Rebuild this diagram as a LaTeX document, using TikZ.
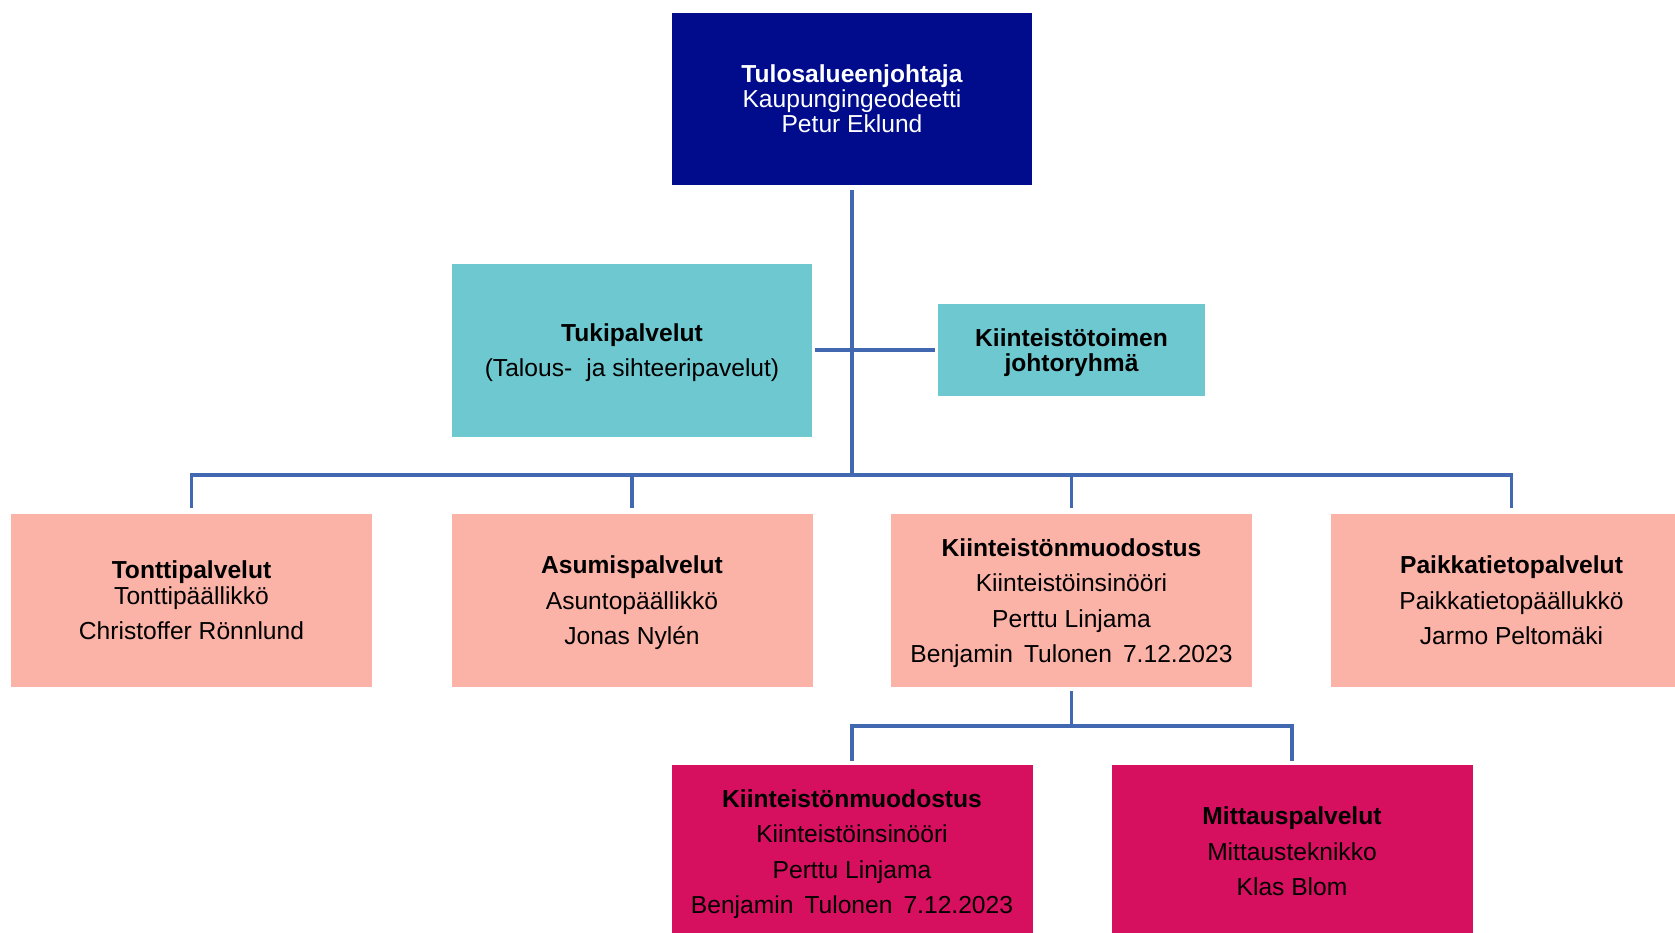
\documentclass[tikz,border=0pt]{standalone}
\usepackage{fontspec}
\setmainfont{Liberation Sans}
\definecolor{navy}{RGB}{0,12,140}
\definecolor{teal}{RGB}{110,200,208}
\definecolor{salmon}{RGB}{251,178,167}
\definecolor{magenta}{RGB}{214,15,95}
\definecolor{lineblue}{RGB}{66,104,178}
\newcommand{\nodepth}[1]{\raisebox{0pt}[\height][0pt]{#1}}
\begin{document}
\begin{tikzpicture}[x=1pt,y=-1pt,
  box/.style={inner sep=0pt, align=center, text=black,
    font=\fontsize{24.6}{35.5}\selectfont},
  tight/.style={font=\fontsize{24.6}{25}\selectfont},
  rowbox/.style={box, minimum width=361pt, minimum height=173pt},
  conn/.style={draw=lineblue, line width=3.3pt}]
\useasboundingbox (0,0) rectangle (1675,932);
\clip (0,0) rectangle (1675,932);

% nodes
\node[box, tight, fill=navy, text=white, minimum width=360pt, minimum height=172pt] (top) at (852,99)
  {\textbf{Tulosalueenjohtaja}\\Kaupungingeodeetti\\Petur Eklund};
\node[box, fill=teal, minimum width=360pt, minimum height=173pt] (tuki) at (632,350)
  {\textbf{Tukipalvelut}\\\nodepth{(Talous-\hspace{0.3em} ja sihteeripavelut)}};
\node[box, tight, fill=teal, minimum width=267pt, minimum height=92pt] (johto) at (1071.5,350)
  {\textbf{Kiinteistötoimen}\\\nodepth{\textbf{johtoryhmä}}};

\node[rowbox, fill=salmon] (tontti) at (191.5,600.5)
  {\textbf{Tonttipalvelut}\\[-10pt]Tonttipäällikkö\\Christoffer Rönnlund};
\node[rowbox, fill=salmon] (asumis) at (632,600.5)
  {\textbf{Asumispalvelut}\\Asuntopäällikkö\\\nodepth{Jonas Nylén}};
\node[rowbox, fill=salmon] (kmuod) at (1071.5,600.5)
  {\textbf{Kiinteistönmuodostus}\\Kiinteistöinsinööri\\Perttu Linjama\\\nodepth{Benjamin\hspace{0.45em}Tulonen\hspace{0.45em}7.12.2023}};
\node[rowbox, fill=salmon] (paikka) at (1511.5,600.5)
  {\textbf{Paikkatietopalvelut}\\Paikkatietopäällukkö\\Jarmo Peltomäki};

\node[rowbox, fill=magenta] (kmuod2) at (852,851.5)
  {\textbf{Kiinteistönmuodostus}\\Kiinteistöinsinööri\\Perttu Linjama\\\nodepth{Benjamin\hspace{0.45em}Tulonen\hspace{0.45em}7.12.2023}};
\node[rowbox, fill=magenta] (mittaus) at (1292,851.5)
  {\textbf{Mittauspalvelut}\\Mittausteknikko\\Klas Blom};

% connectors
\coordinate (hub) at (852,475);
\coordinate (subhub) at (1071.5,726);
\draw[conn, shorten <=5pt] (top) -- (hub);
\draw[conn, shorten <=3pt, shorten >=3pt] (tuki) -- (johto);
\draw[conn, shorten >=6pt] (hub) -| (tontti);
\draw[conn, shorten >=6pt] (hub) -| (asumis);
\draw[conn, shorten >=6pt] (hub) -| (kmuod);
\draw[conn, shorten >=6pt] (hub) -| (paikka);
\draw[conn, shorten <=4pt] (kmuod) -- (subhub);
\draw[conn, shorten >=4pt] (subhub) -| (kmuod2);
\draw[conn, shorten >=4pt] (subhub) -| (mittaus);
\end{tikzpicture}
\end{document}
